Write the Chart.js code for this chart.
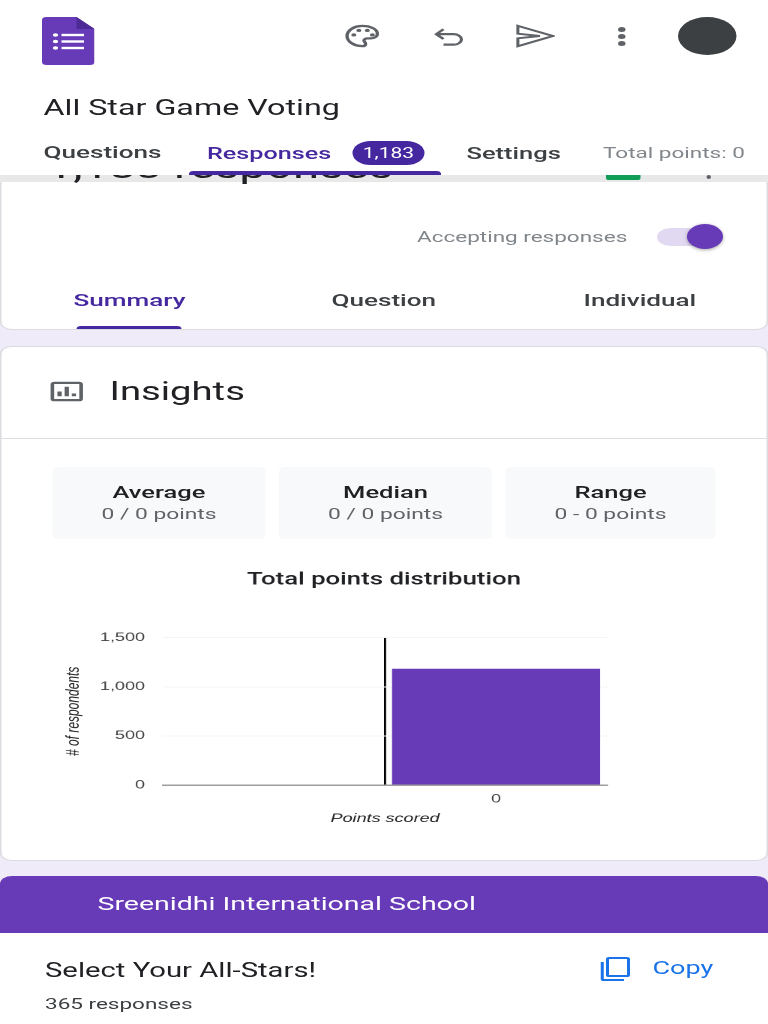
<!DOCTYPE html>
<html>
<head>
<meta charset="utf-8">
<title>All Star Game Voting</title>
<script src="https://cdn.jsdelivr.net/npm/chart.js@4"></script>
<style>
html, body { margin: 0; padding: 0; background: #f0ebf8; overflow: hidden; }
/* the whole screen is stretched sideways, so lay it out at 2/3 width */
#page { position: absolute; left: 0; top: 0; width: 512px; height: 1024px; transform: scaleX(1.5); transform-origin: 0 0; overflow: hidden; font-family: Roboto, sans-serif; color: #202124; }
#page div, #page span, #page svg, #page canvas { position: absolute; }
.t { white-space: nowrap; line-height: 1; transform: translateY(-50%); }
.c { text-align: center; }
.card { background: #fff; border: 1px solid #dadce0; box-sizing: border-box; }
.stat { background: #f8f9fa; border-radius: 4px; top: 467px; height: 72px; }
.tab { font-size: 17.400px; font-weight: 500; color: #3c4043; }
.gray { color: #5f6368; }
</style>
</head>
<body>
<div id="page">
    <!-- card behind the header -->
    <div class="card" style="left:0;top:182px;width:512px;height:148px;border-top:0;border-radius:0 0 8px 8px"></div>
    <div style="left:0;top:175px;width:512px;height:7px;background:#e8e8e8"></div>
    <div class="t" style="left:31px;top:168px;font-size:31.600px">1,183 responses</div>
    <div style="left:404px;top:170px;width:23px;height:10px;background:#0f9d58;border-radius:2px"></div>
    <div style="left:471px;top:175px;width:3px;height:4px;border-radius:50%;background:#5f6368"></div>

    <!-- header -->
    <div style="left:0;top:0;width:512px;height:175px;background:#fff"></div>
    <svg style="left:28px;top:17px" width="35" height="48" viewBox="0 0 35 48">
        <path d="M3 0H23L35 12V45a3 3 0 0 1-3 3H3a3 3 0 0 1-3-3V3a3 3 0 0 1 3-3Z" fill="#673ab7"/>
        <path d="M23 0L35 12H23Z" fill="#4e2a96"/>
        <g fill="#fff"><circle cx="9" cy="18" r="1.800"/><circle cx="9" cy="24.500" r="1.800"/><circle cx="9" cy="31" r="1.800"/>
        <rect x="13" y="16.800" width="15" height="2.400"/><rect x="13" y="23.300" width="15" height="2.400"/><rect x="13" y="29.800" width="15" height="2.400"/></g>
    </svg>
    <svg style="left:228px;top:21px" width="27" height="30" viewBox="0 0 24 24" fill="none" stroke="#5f6368" stroke-width="2">
        <path d="M12 3a9 9 0 1 0 0 18c1.500 0 2-1 2-2 0-1.500-1-2-1-3s1-2 2-2h2c2.500 0 4-1.500 4-4 0-4-4-7-9-7Z"/>
        <g fill="#5f6368" stroke="none"><circle cx="7" cy="11" r="1.500"/><circle cx="10" cy="7" r="1.500"/><circle cx="15" cy="7" r="1.500"/><circle cx="18" cy="11" r="1.500"/></g>
    </svg>
    <svg style="left:288px;top:24px" width="23" height="26" viewBox="0 0 24 24" fill="none" stroke="#5f6368" stroke-width="2.200">
        <path d="M8 4L3 9l5 5M3 9h12a5 5 0 0 1 0 11H8"/>
    </svg>
    <svg style="left:343px;top:22px" width="27" height="28" viewBox="0 0 24 24" fill="none" stroke="#5f6368" stroke-width="1.800">
        <path d="M2 3L23 12 2 21V14L15 12 2 10Z"/>
    </svg>
    <div style="left:411.500px;top:27px;width:5px;height:5px;border-radius:50%;background:#5f6368"></div>
    <div style="left:411.500px;top:34px;width:5px;height:5px;border-radius:50%;background:#5f6368"></div>
    <div style="left:411.500px;top:41px;width:5px;height:5px;border-radius:50%;background:#5f6368"></div>
    <div style="left:452px;top:17px;width:39px;height:38px;border-radius:50%;background:#3c4043"></div>

    <div class="t" style="left:29px;top:108px;font-size:21.500px">All Star Game Voting</div>
    <div class="t tab" style="left:29px;top:153px">Questions</div>
    <div class="t tab" style="left:138px;top:153px;color:#4527a0;font-size:16.800px">Responses</div>
    <div style="left:235px;top:141px;width:48px;height:24px;border-radius:12px;background:#4527a0"></div>
    <div class="t c" style="left:235px;top:153px;width:48px;color:#fff;font-size:14px">1,183</div>
    <div class="t tab" style="left:311px;top:153px;font-size:17px">Settings</div>
    <div class="t gray" style="left:402px;top:153px;font-size:15px;color:#80868b">Total points: 0</div>
    <div style="left:126px;top:171px;width:168px;height:4px;border-radius:3px 3px 0 0;background:#4527a0"></div>

    <div class="t" style="left:278px;top:237px;font-size:15px;color:#80868b">Accepting responses</div>
    <div style="left:438px;top:228px;width:39px;height:18px;border-radius:9px;background:#e1d8f1"></div>
    <div style="left:458px;top:224px;width:24px;height:25px;border-radius:50%;background:#673ab7;box-shadow:0 1px 3px rgba(0,0,0,.35)"></div>
    <div class="t tab" style="left:49px;top:301px;color:#4527a0">Summary</div>
    <div class="t tab" style="left:221px;top:301px">Question</div>
    <div class="t tab" style="left:389px;top:301px">Individual</div>
    <div style="left:51px;top:326px;width:70px;height:3px;border-radius:3px 3px 0 0;background:#4527a0"></div>

    <!-- insights card -->
    <div class="card" style="left:0;top:346px;width:512px;height:515px;border-radius:8px"></div>
    <svg style="left:33px;top:379px" width="23" height="25" viewBox="0 0 24 24" fill="none" stroke="#5f6368" stroke-width="2.500">
        <rect x="2" y="3" width="20" height="18" rx="1.500"/>
        <path d="M7 17v-5M12 17V7M17 17v-3" stroke-width="3"/>
    </svg>
    <div class="t" style="left:73px;top:392px;font-size:25.500px">Insights</div>
    <div style="left:1px;top:438px;width:510px;height:1px;background:#dadce0"></div>

    <div class="stat" style="left:35px;width:142px"></div>
    <div class="stat" style="left:186px;width:142px"></div>
    <div class="stat" style="left:337px;width:140px"></div>
    <div class="t c" style="left:35px;width:142px;top:492px;font-size:17px;font-weight:500">Average</div>
    <div class="t c gray" style="left:35px;width:142px;top:515px;font-size:15.200px">0 / 0 points</div>
    <div class="t c" style="left:186px;width:142px;top:492px;font-size:17px;font-weight:500">Median</div>
    <div class="t c gray" style="left:186px;width:142px;top:515px;font-size:15.200px">0 / 0 points</div>
    <div class="t c" style="left:337px;width:140px;top:492px;font-size:17px;font-weight:500">Range</div>
    <div class="t c gray" style="left:337px;width:140px;top:515px;font-size:15.200px">0 - 0 points</div>

    <canvas id="pointsChart" style="left:0;top:560px"></canvas>

    <!-- next question card -->
    <div style="left:0;top:876px;width:512px;height:148px;background:#fff;border-radius:8px 8px 0 0"></div>
    <div style="left:0;top:876px;width:512px;height:57px;background:#673ab7;border-radius:8px 8px 0 0"></div>
    <div class="t" style="left:65px;top:903px;font-size:19px;color:#fff">Sreenidhi International School</div>
    <div class="t" style="left:30px;top:971px;font-size:19.500px">Select Your All-Stars!</div>
    <div class="t" style="left:30px;top:1004px;font-size:15px;color:#3c4043">365 responses</div>
    <svg style="left:400px;top:956px" width="20" height="26" viewBox="0 0 20 26" fill="none" stroke="#1a73e8" stroke-width="2">
        <rect x="5" y="2" width="14" height="18" rx="1"/>
        <path d="M1.500 6V23a1 1 0 0 0 1 1H16"/>
    </svg>
    <div class="t" style="left:435px;top:968px;font-size:18px;color:#1a73e8">Copy</div>
</div>

<script>
// Chart data
const pointCategories = ['', '0'];
const respondentCounts = [0, 1183];
const yMax = 1500;
const yStep = 500;

const chartFont = 'Liberation Sans, Arial, sans-serif';

// Draw the total points distribution
function drawPointsChart() {
    const canvas = document.getElementById('pointsChart');
    new Chart(canvas, {
        type: 'bar',
        data: {
            labels: pointCategories,
            datasets: [{
                data: respondentCounts,
                backgroundColor: '#673ab7',
                categoryPercentage: 1,
                barPercentage: 0.937
            }]
        },
        options: {
            responsive: false,
            animation: false,
            devicePixelRatio: 2,
            plugins: {
                legend: { display: false },
                tooltip: { enabled: false },
                title: {
                    display: true,
                    text: 'Total points distribution',
                    color: '#202124',
                    font: { family: 'Roboto', size: 17.200, weight: '500' },
                    padding: { top: 10, bottom: 47 }
                }
            },
            scales: {
                x: {
                    offset: true,
                    border: { display: true, color: '#9e9e9e', width: 1.500 },
                    grid: {
                        offset: true,
                        drawTicks: false,
                        // only the line between the two categories shows
                        color: (ctx) => ctx.index === 1 ? '#000' : 'transparent',
                        lineWidth: 1.400
                    },
                    ticks: { color: '#444', font: { family: chartFont, size: 12 }, padding: 7 },
                    title: {
                        display: true,
                        text: 'Points scored',
                        color: '#222',
                        font: { family: chartFont, size: 12, style: 'italic' },
                        padding: { top: 4, bottom: 0 }
                    },
                    afterFit: (scale) => { scale.height = 41; }
                },
                y: {
                    min: 0,
                    max: yMax,
                    border: { display: false },
                    grid: { color: '#f4f4f4', drawTicks: false },
                    ticks: {
                        stepSize: yStep,
                        color: '#444',
                        padding: 12,
                        font: { family: chartFont, size: 12 },
                        callback: (value) => value.toLocaleString('en-US')
                    },
                    title: {
                        display: true,
                        text: '# of respondents',
                        color: '#222',
                        font: { family: chartFont, size: 12, style: 'italic' },
                        padding: { top: 42, bottom: 0 }
                    },
                    afterFit: (scale) => { scale.width = 108.700; }
                },
                // empty axis that keeps the gap right of the plot
                gap: {
                    position: 'right',
                    grid: { display: false },
                    border: { display: false },
                    ticks: { display: false },
                    afterFit: (scale) => { scale.width = 107.300; }
                }
            }
        }
    });
}

const chartCanvas = document.getElementById('pointsChart');
chartCanvas.width = 512;
chartCanvas.height = 266;
drawPointsChart();
</script>
</body>
</html>
